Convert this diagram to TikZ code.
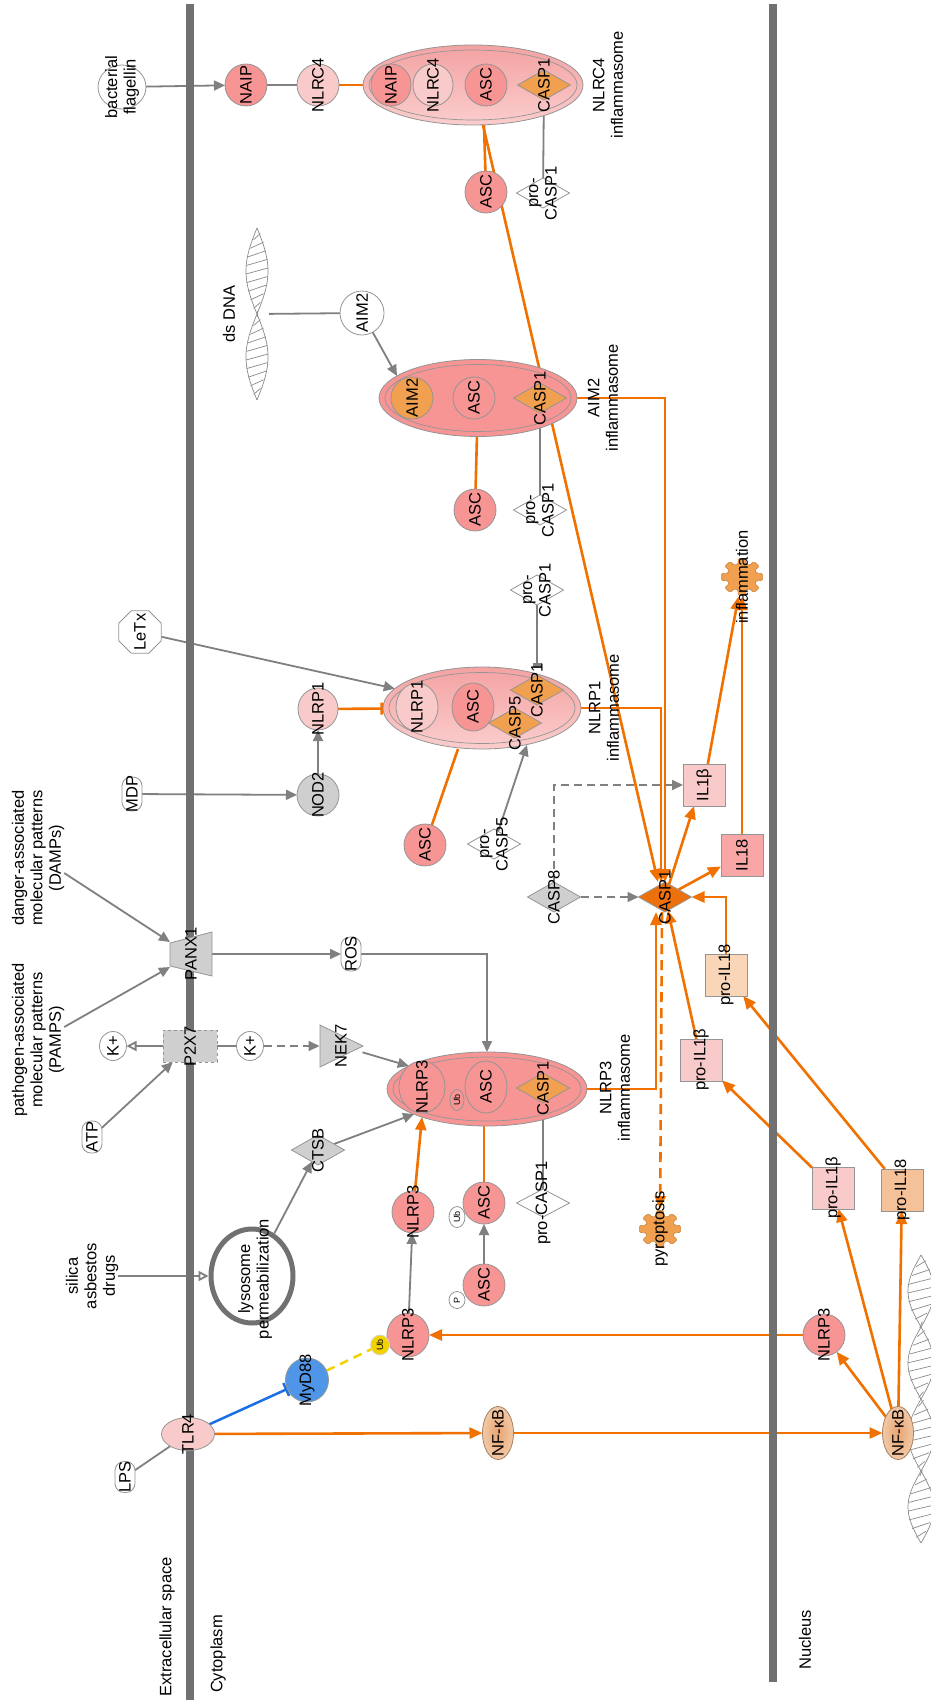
\documentclass[tikz,border=0pt]{standalone}
\usepackage{fontspec}
\setmainfont{Liberation Sans}
\usetikzlibrary{arrows.meta,shapes.geometric}

\pgfdeclarelayer{edges}
\pgfdeclarelayer{walls}
\pgfsetlayers{edges,walls,main}

\definecolor{salmon}{HTML}{F79494}
\definecolor{pinklt}{HTML}{F9CACA}
\definecolor{peach}{HTML}{F9D6B8}
\definecolor{peachdk}{HTML}{F5C199}
\definecolor{ilred}{HTML}{F8A6A6}
\definecolor{orgfill}{HTML}{F0A04E}
\definecolor{orgdark}{HTML}{EC700C}
\definecolor{edgeor}{HTML}{F07000}
\definecolor{edgegr}{HTML}{808080}
\definecolor{nodegr}{HTML}{CFCFCF}
\definecolor{outl}{HTML}{959595}
\definecolor{membgr}{HTML}{717171}
\definecolor{bluein}{HTML}{1B6FE4}
\definecolor{mydblue}{HTML}{5096E8}
\definecolor{ubyel}{HTML}{F2D200}
\definecolor{nfkbfill}{HTML}{E8A472}
\definecolor{nfkbedge}{HTML}{F2C9A6}
\definecolor{nfkbline}{HTML}{A48062}
\definecolor{cplxtop}{HTML}{F4A2A2}
\definecolor{cplxbot}{HTML}{FBCDCD}
\definecolor{helixgr}{HTML}{8A8A8A}

\newcommand\labfont{\fontsize{16.5}{18.5}\selectfont}
\newcommand\tagfont{\fontsize{9}{10}\selectfont}

% molecule: shape node plus its rotated caption
\newcommand\gene[4][]{%
  \node[#1] (#2) at (#3) {};
  \node[txt] (#2t) at (#2) {#4};}

% double helix: centre x, top y, bottom y, lobes, half width, rungs
\newcommand\dnahelix[6]{%
  \foreach \sgn in {1,-1}{%
    \draw[helixline] plot[domain=0:1, samples=90, variable=\x]
      ({#1+(\sgn)*#5*sin(180*#4*\x)}, {#2+(#3-#2)*\x});
  }%
  \foreach \i in {1,...,#6}{%
    \pgfmathsetmacro\hfrac{\i/(#6+1)}%
    \pgfmathsetmacro\hw{#5*abs(sin(180*#4*\hfrac))}%
    \pgfmathsetmacro\hy{#2+(#3-#2)*\hfrac}%
    \draw[helixline] ({#1-\hw}, {\hy+3}) -- ({#1+\hw}, {\hy-3});
  }%
}

% cog used for biological processes
\newcommand\cogshape[2]{%
  \begin{scope}[shift={(#1,#2)}, yscale=0.9]
    \filldraw[cogline] (-14:15)
      \foreach \a in {0,45,...,315}{ -- (\a-11:21) -- (\a+11:21) -- (\a+14:15) -- (\a+31:15)} -- cycle;
  \end{scope}}

\begin{document}
\begin{tikzpicture}[x=1pt, y=-1pt,
  shp/.style={draw=outl, line width=0.8pt, inner sep=0pt, outer sep=0pt},
  txt/.style={rotate=90, font=\labfont, align=center, inner sep=0pt, outer sep=0pt},
  prot/.style={shp, ellipse, minimum width=42pt, minimum height=42pt},
  enz/.style={shp, diamond, minimum width=53pt, minimum height=30pt},
  sq/.style={shp, rectangle, minimum width=42pt, minimum height=42pt},
  chem/.style={shp, rectangle, rounded corners=9pt, fill=white, minimum width=20pt, minimum height=34pt},
  tagc/.style={shp, ellipse, minimum width=16pt, minimum height=21pt},
  cmplx/.style={shp, ellipse},
  ring/.style={shp, ellipse, line width=0.7pt},
  spot/.style={inner sep=0pt, outer sep=0pt},
  memb/.style={draw=membgr, line width=8pt},
  helixline/.style={draw=helixgr, line width=0.7pt},
  cogline/.style={draw=orgfill!85!black, fill=orgfill, line width=0.6pt, rounded corners=1.5pt},
  gline/.style={draw=edgegr, line width=1.8pt},
  garr/.style={gline, -{Triangle[length=11pt, width=10pt]}},
  ghollow/.style={gline, -{Triangle[open, length=10pt, width=10pt, fill=white]}},
  gdash/.style={garr, dash pattern=on 8pt off 5pt},
  oline/.style={draw=edgeor, line width=2.6pt},
  oarr/.style={oline, -{Triangle[length=13pt, width=11pt]}},
  obar/.style={oline, -{Bar[width=12pt]}},
  odash/.style={oarr, dash pattern=on 10pt off 6pt},
  gbars/.style={gline, -{Bar[width=9pt] Bar[width=9pt]}},
  binh/.style={draw=bluein, line width=2.5pt, -{Bar[width=14pt]}},
  ydash/.style={draw=ubyel, line width=2.5pt, dash pattern=on 9pt off 6pt},
  nfkb/.style={shp, ellipse, draw=nfkbline, inner color=nfkbfill, outer color=nfkbedge, minimum width=31pt, minimum height=53pt},
]
\useasboundingbox (0,0) rectangle (931,1700);

% ---------- compartments
\begin{pgfonlayer}{walls}
  \draw[memb] (190,4) -- (190,1700);
  \draw[memb] (773,4) -- (773,1682);
\end{pgfonlayer}
\node[txt] (lblext) at (167,1627) {Extracellular space};
\node[txt] (lblcyt) at (218,1654) {Cytoplasm};
\node[txt] (lblnuc) at (805,1640) {Nucleus};

% ---------- NLRC4 inflammasome
\gene[prot, fill=white, minimum width=48pt, minimum height=44pt]{flag}{122,87}{bacterial\\flagellin}
\gene[prot, fill=salmon]{naip}{246,85}{NAIP}
\gene[prot, fill=pinklt]{nlrc4}{318,85}{NLRC4}
\node[cmplx, top color=cplxtop, bottom color=cplxbot, minimum width=220pt, minimum height=80pt] (nlrc4c) at (473,85) {};
\node[ring, minimum width=208pt, minimum height=70pt] (nlrc4r) at (nlrc4c) {};
\gene[prot, fill=salmon, minimum width=40pt]{naipi}{391,85}{NAIP}
\gene[prot, fill=pinklt, minimum width=40pt]{nlrc4i}{433,85}{NLRC4}
\gene[prot, fill=salmon]{asci1}{486,85}{ASC}
\gene[enz, fill=orgfill]{caspa}{544,85}{CASP1}
\node[txt] (nlrc4lbl) at (608,85) {NLRC4\\inflammasome};
\gene[prot, fill=salmon]{asc1}{486,192}{ASC}
\gene[enz, fill=white]{procaspa}{543,193}{pro-\\CASP1}

% ---------- AIM2 inflammasome
\dnahelix{257}{228}{400}{2}{11}{19}
\node[spot, minimum width=24pt, minimum height=172pt] (dsdna) at (257,314) {};
\node[txt] (dslbl) at (229,314) {ds DNA};
\gene[prot, fill=white, minimum width=44pt, minimum height=44pt]{aim2w}{362,313}{AIM2}
\node[cmplx, fill=salmon, minimum width=198pt, minimum height=77pt] (aim2c) at (478,398) {};
\node[ring, minimum width=186pt, minimum height=67pt] (aim2r) at (aim2c) {};
\gene[prot, fill=orgfill]{aim2i}{412,398}{AIM2}
\gene[prot, fill=salmon]{asci2}{474,398}{ASC}
\gene[enz, fill=orgfill]{caspb}{540,398}{CASP1}
\node[txt] (aim2lbl) at (603,398) {AIM2\\inflammasome};
\gene[prot, fill=salmon]{asc2}{475,510}{ASC}
\gene[enz, fill=white]{procaspb}{540,510}{pro-\\CASP1}

% ---------- NLRP1 inflammasome
\gene[enz, fill=white]{procaspc}{537,590}{pro-\\CASP1}
\gene[shp, regular polygon, regular polygon sides=8, minimum size=46pt, fill=white]{letx}{140,632}{LeTx}
\gene[prot, fill=pinklt, minimum width=40pt]{nlrp1}{318,709}{NLRP1}
\node[cmplx, top color=cplxtop, bottom color=cplxbot, minimum width=198pt, minimum height=82pt] (nlrp1c) at (482,708) {};
\node[ring, minimum width=186pt, minimum height=71pt] (nlrp1r) at (nlrp1c) {};
\gene[prot, fill=pinklt, minimum height=48pt]{nlrp1i}{417,707}{NLRP1}
\gene[prot, fill=salmon, minimum height=48pt]{asci3}{473,707}{ASC}
\gene[enz, fill=orgfill]{caspc}{537,690}{CASP1}
\gene[enz, fill=orgfill]{casp5i}{515,723}{CASP5}
\node[txt] (nlrp1lbl) at (604,708) {NLRP1\\inflammasome};
\gene[chem]{mdp}{132,794}{MDP}
\gene[prot, fill=nodegr]{nod2}{318,795}{NOD2}
\gene[prot, fill=salmon]{asc3}{425,845}{ASC}
\gene[enz, fill=white]{procasp5}{494,844}{pro-\\CASP5}

% ---------- caspase-1 hub and cytokines
\node[txt] (damps) at (38,858) {danger-associated\\molecular patterns\\(DAMPs)};
\node[txt] (pamps) at (38,1040) {pathogen-associated\\molecular patterns\\(PAMPS)};
\gene[sq, fill=pinklt]{il1b}{704,785}{IL1β}
\gene[sq, fill=ilred]{il18}{742,855}{IL18}
\cogshape{742}{577}
\gene[spot, circle, minimum size=40pt]{infl}{742,577}{inflammation}
\gene[enz, fill=nodegr]{casp8}{554,897}{CASP8}
\gene[enz, fill=orgdark]{casp1c}{665,897}{CASP1}
\gene[sq, fill=peach]{proil18c}{726,975}{pro-IL18}
\gene[sq, fill=pinklt]{proil1bc}{701,1060}{pro-IL1β}

% ---------- NLRP3 inflammasome
\filldraw[fill=nodegr, draw=outl, line width=0.8pt] (170,943) -- (212,932) -- (212,976) -- (170,966) -- cycle;
\gene[spot, minimum width=42pt, minimum height=44pt]{panx1}{191,954}{PANX1}
\gene[chem]{ros}{351,954}{ROS}
\gene[shp, ellipse, fill=white, minimum width=27pt, minimum height=29pt]{kout}{113,1046}{K+}
\gene[shp, rectangle, dashed, fill=nodegr, minimum width=54pt, minimum height=32pt]{p2x7}{190,1046}{P2X7}
\gene[shp, ellipse, fill=white, minimum width=27pt, minimum height=29pt]{kin}{250,1046}{K+}
\filldraw[fill=nodegr, draw=outl, line width=0.8pt] (320,1025) -- (363,1046) -- (320,1067) -- cycle;
\gene[spot, minimum width=43pt, minimum height=42pt]{nek7}{341,1046}{NEK7}
\node[cmplx, fill=salmon, minimum width=200pt, minimum height=74pt] (nlrp3c) at (487,1089) {};
\node[ring, minimum width=188pt, minimum height=64pt] (nlrp3r) at (nlrp3c) {};
\gene[prot, fill=salmon, minimum width=46pt, minimum height=52pt]{nlrp3i}{422,1087}{NLRP3}
\gene[tagc, fill=salmon, minimum width=14pt]{ubi}{457,1100}{\tagfont Ub}
\gene[prot, fill=salmon, minimum width=42pt, minimum height=52pt]{asci4}{486,1087}{ASC}
\gene[enz, fill=orgfill]{caspd}{543,1088}{CASP1}
\node[txt] (nlrp3lbl) at (615,1088) {NLRP3\\inflammasome};
\gene[chem, minimum height=32pt]{atp}{92,1137}{ATP}
\gene[enz, fill=nodegr]{ctsb}{318,1150}{CTSB}
\gene[sq, fill=pinklt]{proil1bn}{833,1188}{pro-IL1β}
\gene[sq, fill=peachdk]{proil18n}{902,1190}{pro-IL18}
\gene[prot, fill=salmon]{nlrp3m}{413,1212}{NLRP3}
\gene[prot, fill=salmon]{ascub}{484,1203}{ASC}
\gene[tagc, fill=white]{ubtag}{457,1217}{\tagfont Ub}
\gene[enz, fill=white, minimum height=28pt]{procaspd}{543,1203}{pro-CASP1}
\cogshape{660}{1229}
\gene[spot, circle, minimum size=40pt]{pyro}{660,1229}{pyroptosis}
\node[txt] (silica) at (92,1276) {silica\\asbestos\\drugs};
\node[draw=membgr, line width=5pt, ellipse, minimum width=82pt, minimum height=94pt, inner sep=0pt, outer sep=2.5pt] (lyso) at (252,1276) {};
\node[txt] (lysot) at (255,1279) {lysosome\\permeabilization};
\gene[prot, fill=salmon]{ascp}{484,1285}{ASC}
\gene[tagc, fill=white, minimum height=17pt]{ptag}{457,1300}{\tagfont P}
\gene[prot, fill=salmon, minimum width=42pt, minimum height=44pt]{nlrp3l}{408,1335}{NLRP3}
\gene[tagc, fill=ubyel, draw=white!70!gray, minimum width=19pt, minimum height=20pt]{ubmark}{380,1345}{\tagfont Ub}
\gene[prot, fill=salmon]{nlrp3n}{824,1335}{NLRP3}

% ---------- TLR4 / NF-kB priming
\gene[prot, fill=mydblue, minimum width=43pt, minimum height=44pt]{myd88}{307,1380}{MyD88}
\gene[prot, fill=pinklt, minimum width=53pt, minimum height=33pt]{tlr4}{188,1434}{TLR4}
\gene[nfkb]{nfkbc}{498,1433}{NF-κB}
\dnahelix{921}{1255}{1543}{4}{13}{32}
\node[spot, minimum width=28pt, minimum height=288pt] (dnanuc) at (921,1399) {};
\gene[nfkb]{nfkbn}{898,1433}{NF-κB}
\gene[chem, minimum height=31pt]{lps}{125,1477}{LPS}

% ---------- connectors
\begin{pgfonlayer}{edges}
  \fill[white] (0,0) rectangle (931,1700);
  % NLRC4
  \draw[garr] (flag) -- (naip);
  \draw[gline] (naip) -- (nlrc4);
  \draw[oline] (nlrc4) -- (nlrc4c);
  \draw[oline] ([xshift=11pt]nlrc4c.south) -- (asc1);
  \draw[gline] (caspa) -- (procaspa);
  \draw[oarr] ([xshift=10pt]nlrc4c.south) -- ([xshift=-7pt]casp1c.north);
  % AIM2
  \draw[gline] (dsdna) -- (aim2w);
  \draw[garr] (aim2w) -- ([xshift=-81pt, yshift=22pt]aim2c.center);
  \draw[oline] (aim2c) -- (asc2);
  \draw[gline] (caspb) -- (procaspb);
  \draw[oarr] (aim2c.east) -| (casp1c.north);
  % NLRP1
  \draw[garr] (letx) -- (nlrp1c);
  \draw[garr] (mdp) -- (nod2);
  \draw[garr] (nod2) -- (nlrp1);
  \draw[obar] (nlrp1) -- (nlrp1c);
  \draw[gbars] (procaspc) -- (procaspc |- nlrp1c.north);
  \draw[garr] (procasp5) -- ([xshift=45pt, yshift=-37pt]nlrp1c.center);
  \draw[oline] (asc3) -- ([xshift=-24pt]nlrp1c.south);
  \draw[oarr] (nlrp1c.east) -| ([xshift=-4pt]casp1c.north);
  % NLRP3 activation (caption nodes are turned, so their right side is .south)
  \draw[garr] ([yshift=-15pt]damps.south) -- ([yshift=12pt]panx1.west);
  \draw[garr] ([yshift=13pt]pamps.south) -- ([yshift=-13pt]panx1.west);
  \draw[garr] (panx1.east) -- (ros);
  \draw[garr] (ros) -| (nlrp3c.north);
  \draw[garr] (atp) -- (p2x7);
  \draw[ghollow] (p2x7) -- (kout);
  \draw[gline] (p2x7) -- (kin);
  \draw[gdash] (kin) -- (nek7.west);
  \draw[garr] (nek7) -- (nlrp3c);
  \draw[ghollow] (silica) -- (lyso);
  \draw[garr] (lyso) -- (ctsb);
  \draw[garr] (ctsb) -- ([xshift=-73pt, yshift=-25pt]nlrp3c.center);
  \draw[oarr] (nlrp3m) -- ([xshift=-65pt, yshift=-28pt]nlrp3c.center);
  \draw[oline] (ascub) -- (ascub |- nlrp3c.south);
  \draw[gline] (caspd) -- (procaspd);
  \draw[garr] (ascp) -- (ascub);
  \draw[garr] (nlrp3l) -- (nlrp3m);
  \draw[oarr] (nlrp3n) -- (nlrp3l);
  \draw[oarr] (nlrp3c.east) -| ([xshift=-9pt]casp1c.south);
  % priming
  \draw[gline] (lps) -- (tlr4);
  \draw[binh] (tlr4) -- (myd88);
  \draw[ydash] (myd88) -- (ubmark);
  \draw[oarr] (tlr4) -- (nfkbc);
  \draw[oarr] (nfkbc) -- (nfkbn);
  \draw[oarr] (nfkbn) -- (nlrp3n);
  \draw[oarr] (nfkbn) -- (proil1bn);
  \draw[oarr] (nfkbn) -- (proil18n);
  \draw[oarr] (proil1bn) -- (proil1bc);
  \draw[oarr] (proil18n) -- (proil18c);
  % caspase-1 outputs
  \draw[oarr] (proil1bc) -- (casp1c);
  \draw[oarr] (proil18c.north) |- (casp1c.east);
  \draw[gdash] (casp8) -- (casp1c);
  \draw[gdash] (casp8.north) |- (il1b.west);
  \draw[oarr] (casp1c) -- ([xshift=-10pt]il1b.south);
  \draw[oarr] (casp1c) -- (il18);
  \draw[oarr] (il1b) -- (infl);
  \draw[oarr] (il18) -- (infl);
  \draw[odash] ([xshift=-3pt]casp1c.south) -- (pyro);
\end{pgfonlayer}
\end{tikzpicture}
\end{document}
